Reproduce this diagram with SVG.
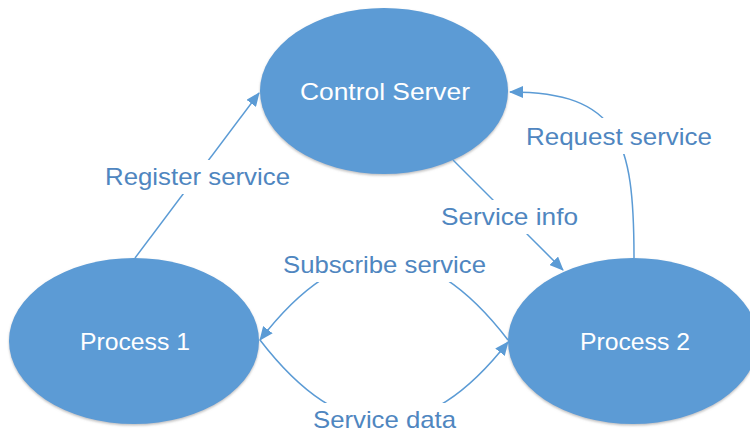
<svg xmlns="http://www.w3.org/2000/svg" width="750" height="432" viewBox="0 0 750 432">
  <style>
    .node { fill: #5b9bd5; filter: url(#shadow); }
    .node-label { fill: #ffffff; font-family: "Liberation Sans", Arial, sans-serif; font-size: 24px; text-anchor: middle; }
    .edge { fill: none; stroke: #5b9bd5; stroke-width: 1.5; marker-end: url(#arrow); }
    .edge-bg { fill: #ffffff; }
    .edge-label { fill: #4f86c0; font-family: "Liberation Sans", Arial, sans-serif; font-size: 24px; text-anchor: middle; }
  </style>
  <defs>
    <filter id="shadow" x="-10%" y="-10%" width="120%" height="125%">
      <feDropShadow dx="0" dy="1.5" stdDeviation="1.2" flood-color="#8a8a8a" flood-opacity="0.55"/>
    </filter>
    <marker id="arrow" markerUnits="userSpaceOnUse" markerWidth="14" markerHeight="12" viewBox="0 0 14 12" refX="13" refY="6" orient="auto">
      <path d="M0,0 L14,6 L0,12 Z" fill="#5b9bd5"/>
    </marker>
  </defs>

  <rect width="750" height="432" fill="#ffffff"/>

  <g id="control-server">
    <ellipse class="node" cx="384" cy="91" rx="124" ry="83"/>
    <text class="node-label" x="385" y="100" textLength="170" lengthAdjust="spacingAndGlyphs">Control Server</text>
  </g>
  <g id="process-1">
    <ellipse class="node" cx="134" cy="341" rx="125" ry="83"/>
    <text class="node-label" x="135" y="350" textLength="110" lengthAdjust="spacingAndGlyphs">Process 1</text>
  </g>
  <g id="process-2">
    <ellipse class="node" cx="633" cy="341" rx="125" ry="83"/>
    <text class="node-label" x="635" y="350" textLength="110" lengthAdjust="spacingAndGlyphs">Process 2</text>
  </g>

  <g id="connectors">
    <path class="edge" d="M135,258 L259,93"/>
    <path class="edge" d="M453,160 L563,270"/>
    <path class="edge" d="M634,258 C634,140 620,92 510,92"/>
    <path class="edge" d="M508,340 C425,232 343,232 260,340"/>
    <path class="edge" d="M260,340 C343,448 425,448 508,342"/>

    <rect class="edge-bg" x="101" y="160" width="193" height="34"/>
    <text class="edge-label" x="197.5" y="185" textLength="185" lengthAdjust="spacingAndGlyphs">Register service</text>

    <rect class="edge-bg" x="436" y="200" width="147" height="34"/>
    <text class="edge-label" x="509.5" y="225" textLength="137" lengthAdjust="spacingAndGlyphs">Service info</text>

    <rect class="edge-bg" x="522" y="118" width="194" height="36"/>
    <text class="edge-label" x="619" y="145" textLength="186" lengthAdjust="spacingAndGlyphs">Request service</text>

    <rect class="edge-bg" x="279" y="247" width="211" height="35"/>
    <text class="edge-label" x="384.5" y="273" textLength="203" lengthAdjust="spacingAndGlyphs">Subscribe service</text>

    <rect class="edge-bg" x="309" y="403" width="151" height="29"/>
    <text class="edge-label" x="384.5" y="428" textLength="143" lengthAdjust="spacingAndGlyphs">Service data</text>
  </g>
</svg>
